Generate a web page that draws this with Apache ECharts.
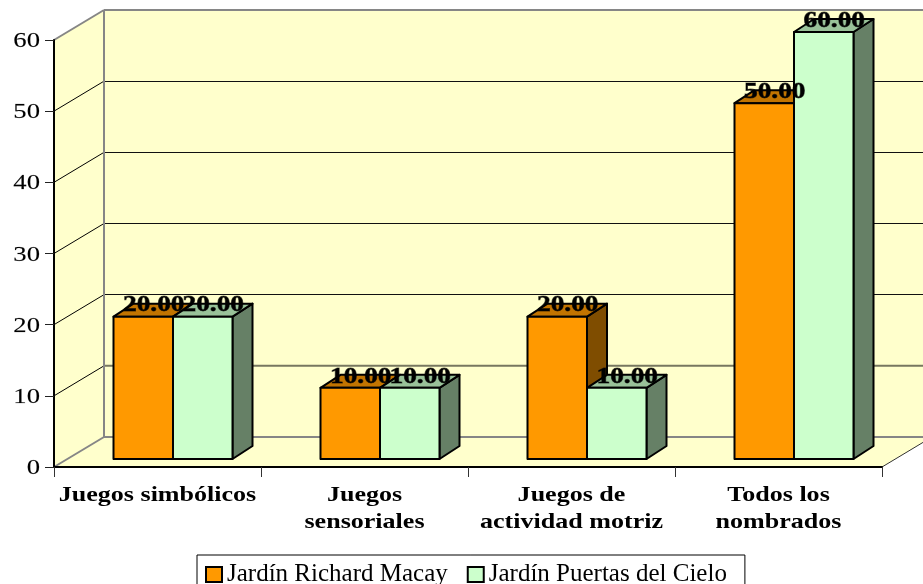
<!DOCTYPE html>
<html><head><meta charset="utf-8">
<style>html,body{margin:0;padding:0;background:#fff;overflow:hidden}#c{width:923px;height:584px}</style>
<script src="https://cdn.jsdelivr.net/npm/echarts@6/dist/echarts.min.js"></script>
</head><body><div id="c"></div>
<script>
var categories = ['Juegos simbólicos', 'Juegos\nsensoriales', 'Juegos de\nactividad motriz', 'Todos los\nnombrados'];
var seriesNames = ['Jardín Richard Macay', 'Jardín Puertas del Cielo'];
var richardMacay = [20, 10, 20, 50];
var puertasCielo = [20, 10, 10, 60];
var yTicks = [0, 10, 20, 30, 40, 50, 60];

var FONT = '"Liberation Serif"';
var STRETCH = 1.24;
var WALL_DX = 50, WALL_DY = 30;
var BAR_W = 59.5, BAR_DX = 20, BAR_DY = 13, BAR_LIFT = 8, BAR_SHIFT = 15.5;
var palette = [
  {front: '#FF9900', top: '#C27400', side: '#7F4D00'},
  {front: '#CCFFCC', top: '#99C299', side: '#668066'}
];

function poly(pts, fill, z2) {
  return {type: 'polygon', shape: {points: pts}, z2: z2,
    style: {fill: fill, stroke: '#000', lineWidth: 2, lineJoin: 'round'}};
}
function line(x1, y1, x2, y2, stroke, lw, z2) {
  return {type: 'line', shape: {x1: x1, y1: y1, x2: x2, y2: y2}, z2: z2,
    style: {stroke: stroke, lineWidth: lw}};
}
function wallItem(params, api) {
  var v = api.value(0);
  var cs = params.coordSys;
  var x0 = cs.x, x1 = cs.x + cs.width;
  var y = api.coord([0, v])[1];
  var yBase = cs.y + cs.height, yTop = cs.y;
  var kids = [];
  if (params.dataIndex === 0) {
    var wall = {fill: '#FFFFCC', stroke: null};
    kids.push({type: 'polygon', z2: 0, shape: {points: [[x0, yBase], [x0 + WALL_DX, yBase - WALL_DY], [x0 + WALL_DX, yTop - WALL_DY], [x0, yTop]]}, style: wall});
    kids.push({type: 'polygon', z2: 0, shape: {points: [[x0 + WALL_DX, yTop - WALL_DY], [x1 + WALL_DX, yTop - WALL_DY], [x1 + WALL_DX, yBase - WALL_DY], [x0 + WALL_DX, yBase - WALL_DY]]}, style: wall});
    kids.push({type: 'polygon', z2: 0, shape: {points: [[x0, yBase], [x1, yBase], [x1 + WALL_DX, yBase - WALL_DY], [x0 + WALL_DX, yBase - WALL_DY]]}, style: wall});
    kids.push(line(x0 + WALL_DX, yTop - WALL_DY, x0 + WALL_DX, yBase - WALL_DY, '#868686', 2, 2));
    kids.push(line(x1, yBase, x1 + WALL_DX, yBase - WALL_DY, '#333', 1, 2));
  }
  var edge = v === 0 || v === 60;
  kids.push(line(x0, y, x0 + WALL_DX, y - WALL_DY, edge ? '#868686' : '#000', edge ? 2 : 1, 1));
  var by = y - WALL_DY;
  if (edge) kids.push(line(x0 + WALL_DX, by, x1 + WALL_DX, by, '#868686', 2, 1));
  else if (v === 10) kids.push(line(x0 + WALL_DX, by, x1 + WALL_DX, by, '#77775f', 2, 1));
  else kids.push(line(x0 + WALL_DX, Math.floor(by) + 0.5, x1 + WALL_DX, Math.floor(by) + 0.5, '#111', 1, 1));
  kids.push({type: 'text', z2: 20, x: x0 - 14, y: y + 1.5, scaleX: STRETCH,
    style: {text: String(v), x: 0, y: 0, align: 'right', verticalAlign: 'middle', font: '21.5px ' + FONT, fill: '#000', stroke: 'rgba(0,0,0,0.35)', lineWidth: 0.3}});
  return {type: 'group', children: kids};
}
function catLabelItem(params, api) {
  var i = api.value(0);
  var c = api.coord([i, 0]);
  return {type: 'text', z2: 20, x: c[0], y: c[1] + 15, scaleX: STRETCH,
    style: {text: categories[i], x: 0, y: 0, align: 'center', verticalAlign: 'top',
      font: 'bold 21px ' + FONT, lineHeight: 27, fill: '#000'}};
}
function barItem(idx) {
  return function (params, api) {
    var cat = api.value(0), v = api.value(1);
    var c = api.coord([cat, v]), b = api.coord([cat, 0]);
    var p = palette[idx];
    var l = c[0] + BAR_SHIFT - BAR_W + idx * BAR_W, r = l + BAR_W;
    var t = c[1] - BAR_LIFT, bt = b[1] - BAR_LIFT;
    return {type: 'group', children: [
      poly([[r, t], [r + BAR_DX, t - BAR_DY], [r + BAR_DX, bt - BAR_DY], [r, bt]], p.side, 10 + idx),
      poly([[l, t], [l + BAR_DX, t - BAR_DY], [r + BAR_DX, t - BAR_DY], [r, t]], p.top, 10 + idx),
      poly([[l, t], [r, t], [r, bt], [l, bt]], p.front, 11 + idx),
      {type: 'text', z2: 100, x: (l + r) / 2 + 10.5, y: t - 11.5, scaleX: 1.14,
        style: {text: v.toFixed(2), x: 0, y: 0, align: 'center', verticalAlign: 'middle',
          font: 'bold 24px ' + FONT, fill: '#000', stroke: 'rgba(0,0,0,0.6)', lineWidth: 0.9}}
    ]};
  };
}
var chart = echarts.init(document.getElementById('c'), null, {renderer: 'canvas'});
chart.setOption({
  animation: false,
  backgroundColor: '#fff',
  grid: {left: 54, top: 40, width: 828, height: 427, containLabel: false},
  xAxis: {type: 'category', data: categories, z: 5,
    axisLine: {lineStyle: {color: '#000', width: 2}},
    axisTick: {show: true, alignWithLabel: false, length: 10, lineStyle: {color: '#333', width: 1}},
    axisLabel: {show: false}},
  yAxis: {type: 'value', min: 0, max: 60, interval: 10, z: 5,
    axisLine: {show: true, lineStyle: {color: '#000', width: 2}},
    axisTick: {show: true, length: 9, lineStyle: {color: '#222', width: 1}},
    splitLine: {show: false},
    axisLabel: {show: false}},
  legend: {left: 197, top: 555, data: seriesNames, orient: 'horizontal', icon: 'rect',
    itemWidth: 16, itemHeight: 15, itemGap: 19, itemTextGap: 7, padding: [7, 18, 7, 8],
    borderColor: '#000', borderWidth: 1, backgroundColor: '#fff',
    itemStyle: {borderColor: '#000', borderWidth: 2},
    textStyle: {color: '#000', fontFamily: FONT, fontSize: 25}},
  series: [
    {type: 'custom', name: 'wall', silent: true, z: 1, clip: false, data: yTicks.map(function (t) { return [t]; }),
      encode: {y: 0}, renderItem: wallItem},
    {type: 'custom', name: 'axisText', silent: true, z: 6, clip: false, data: categories.map(function (c, i) { return [i]; }),
      encode: {x: 0}, renderItem: catLabelItem},
    {type: 'custom', name: seriesNames[0], z: 2, clip: false, itemStyle: {color: palette[0].front},
      data: richardMacay.map(function (v, i) { return [i, v]; }), encode: {x: 0, y: 1}, renderItem: barItem(0)},
    {type: 'custom', name: seriesNames[1], z: 2, clip: false, itemStyle: {color: palette[1].front},
      data: puertasCielo.map(function (v, i) { return [i, v]; }), encode: {x: 0, y: 1}, renderItem: barItem(1)}
  ]
});
</script></body></html>
